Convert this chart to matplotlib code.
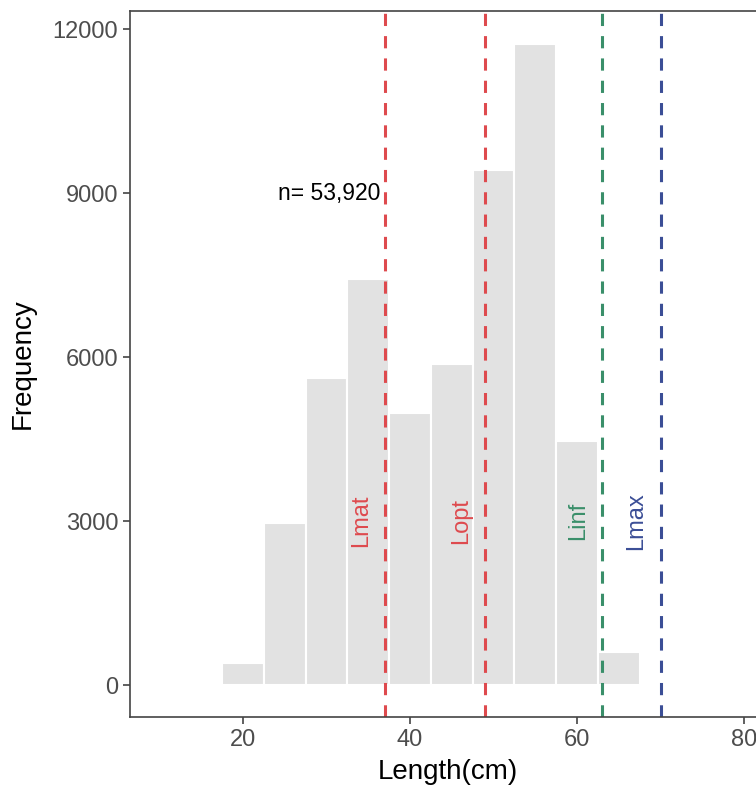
import matplotlib.pyplot as plt

plt.rcParams['font.family'] = ['Liberation Sans', 'DejaVu Sans']

# histogram bins (centre of 5 cm classes) and counts
bin_centres = [20, 25, 30, 35, 40, 45, 50, 55, 60, 65]
counts = [400, 2960, 5620, 7430, 4980, 5870, 9430, 11730, 4460, 600]
bin_width = 5

# reference lengths
ref_names = ['Lmat', 'Lopt', 'Linf', 'Lmax']
ref_values = [37, 49, 63, 70]
ref_colors = ['#DE4A4E', '#DE4A4E', '#3A8F6A', '#3B4E96']

n_label = 'n= 53,920'

fig = plt.figure(figsize=(7.56, 7.99), dpi=100)
ax = fig.add_axes([0.172, 0.1026, 0.84, 0.8834])

ax.bar(bin_centres, counts, width=bin_width, color='#E2E2E2',
       edgecolor='white', linewidth=1.5, zorder=1)

for name, val, col in zip(ref_names, ref_values, ref_colors):
    ax.axvline(val, color=col, linewidth=2.2, linestyle=(0, (4, 3.3)), zorder=2)
    ax.text(val - 2.9, 3000, name, rotation=90, color=col, fontsize=17,
            ha='center', va='center', zorder=3)

ax.text(36.5, 9000, n_label, ha='right', va='center', fontsize=16.5, color='black')

ax.set_xlim(6.5, 82.5)
ax.set_ylim(-585, 12330)
ax.set_xticks([20, 40, 60, 80])
ax.set_yticks([0, 3000, 6000, 9000, 12000])

ax.tick_params(axis='both', labelsize=17, labelcolor='#4D4D4D', color='#444444',
               length=5, width=1.2)
for s in ax.spines.values():
    s.set_color('#444444')
    s.set_linewidth(1.2)

ax.set_xlabel('Length(cm)', fontsize=20, labelpad=6)
ax.set_ylabel('Frequency', fontsize=20, labelpad=12)

fig.savefig('out.png', dpi=100)
